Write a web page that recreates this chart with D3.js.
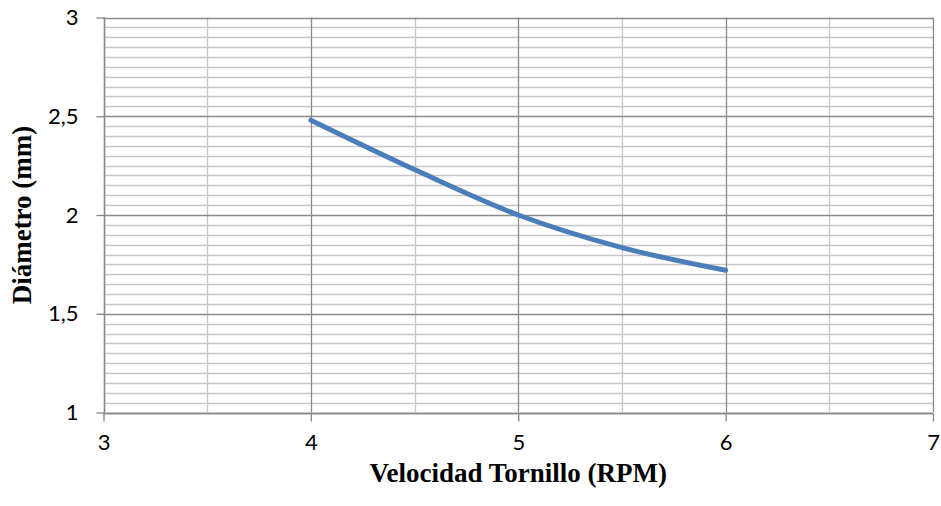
<!DOCTYPE html>
<html>
<head>
<meta charset="utf-8">
<script src="https://cdn.jsdelivr.net/npm/d3@7"></script>
<style>
  body { margin: 0; background: #fff; }
  svg { display: block; }
</style>
</head>
<body>
<script>
'use strict';
// data
let velocidad = [4, 4.5, 5, 5.5, 6];
let diametro = [2.48, 2.23, 2.0, 1.835, 1.72];
let xTicks = [3, 4, 5, 6, 7];
let yTicks = [1, 1.5, 2, 2.5, 3];

(function () {
  let width = 941, height = 506;
  let svg = d3.select("body").append("svg")
    .attr("width", width)
    .attr("height", height);

  let x = d3.scaleLinear().domain([3, 7]).range([103.5, 933]);
  let y = d3.scaleLinear().domain([1, 3]).range([412.5, 17.5]);

  let fmt = (d) => String(d).replace(".", ",");

  // minor horizontal grid every 0.05
  let minorY = d3.range(1, 3.0001, 0.05).map((d) => +d.toFixed(2));
  svg.append("g").selectAll("line")
    .data(minorY.filter((d) => Math.abs(d * 2 - Math.round(d * 2)) > 1e-6))
    .enter().append("line")
    .attr("x1", x(3)).attr("x2", x(7))
    .attr("y1", (d) => Math.round(y(d)) + 0.5)
    .attr("y2", (d) => Math.round(y(d)) + 0.5)
    .attr("stroke", "#c6c6c6").attr("stroke-width", 1.3);

  // minor vertical grid at half units
  svg.append("g").selectAll("line")
    .data([3.5, 4.5, 5.5, 6.5])
    .enter().append("line")
    .attr("x1", (d) => Math.round(x(d)) + 0.5)
    .attr("x2", (d) => Math.round(x(d)) + 0.5)
    .attr("y1", y(1)).attr("y2", y(3))
    .attr("stroke", "#c6c6c6").attr("stroke-width", 1.3);

  // major horizontal grid
  svg.append("g").selectAll("line")
    .data(yTicks)
    .enter().append("line")
    .attr("x1", x(3)).attr("x2", x(7))
    .attr("y1", (d) => Math.round(y(d)) + 0.5)
    .attr("y2", (d) => Math.round(y(d)) + 0.5)
    .attr("stroke", "#8a8a8a").attr("stroke-width", 1.3);

  // major vertical grid
  svg.append("g").selectAll("line")
    .data(xTicks)
    .enter().append("line")
    .attr("x1", (d) => Math.round(x(d)) + 0.5)
    .attr("x2", (d) => Math.round(x(d)) + 0.5)
    .attr("y1", y(1)).attr("y2", y(3))
    .attr("stroke", "#8a8a8a").attr("stroke-width", 1.3);

  // axes
  let xAxis = d3.axisBottom(x).tickValues(xTicks).tickSize(8).tickPadding(13).tickFormat(fmt);
  let gx = svg.append("g")
    .attr("transform", "translate(0," + (Math.round(y(1)) + 0.5) + ")")
    .call(xAxis);
  let yAxis = d3.axisLeft(y).tickValues(yTicks).tickSize(8).tickPadding(18).tickFormat(fmt);
  let gy = svg.append("g")
    .attr("transform", "translate(" + (Math.round(x(3)) + 0.5) + ",0)")
    .call(yAxis);

  [gx, gy].forEach((g) => {
    g.select(".domain").attr("stroke", "#868686").attr("stroke-width", 1.3);
    g.selectAll(".tick line").attr("stroke", "#868686").attr("stroke-width", 1.3);
    g.selectAll(".tick text")
      .attr("fill", "#000")
      .style("font-family", "Lato, 'Open Sans', sans-serif")
      .style("font-size", "22px");
  });
  gy.select(".domain").attr("d", "M0," + y(1) + "V" + y(3));
  gx.select(".domain").attr("d", "M" + x(3) + ",0H" + x(7));

  // data line
  let pts = velocidad.map((v, i) => [v, diametro[i]]);
  let line = d3.line()
    .x((d) => x(d[0]))
    .y((d) => y(d[1]))
    .curve(d3.curveCatmullRom);
  svg.append("path")
    .datum(pts)
    .attr("fill", "none")
    .attr("stroke", "#4a7ebb")
    .attr("stroke-width", 5)
    .attr("stroke-linecap", "round")
    .attr("stroke-linejoin", "round")
    .attr("d", line);

  // axis titles
  svg.append("text")
    .attr("x", x(5))
    .attr("y", 482)
    .attr("text-anchor", "middle")
    .style("font-family", "'Liberation Serif', 'Times New Roman', serif")
    .style("font-weight", "bold")
    .style("font-size", "27px")
    .text("Velocidad Tornillo (RPM)");

  svg.append("text")
    .attr("transform", "translate(31," + y(2) + ")rotate(-90)")
    .attr("text-anchor", "middle")
    .style("font-family", "'Liberation Serif', 'Times New Roman', serif")
    .style("font-weight", "bold")
    .style("font-size", "27px")
    .text("Diámetro (mm)");
})();
</script>
</body>
</html>
